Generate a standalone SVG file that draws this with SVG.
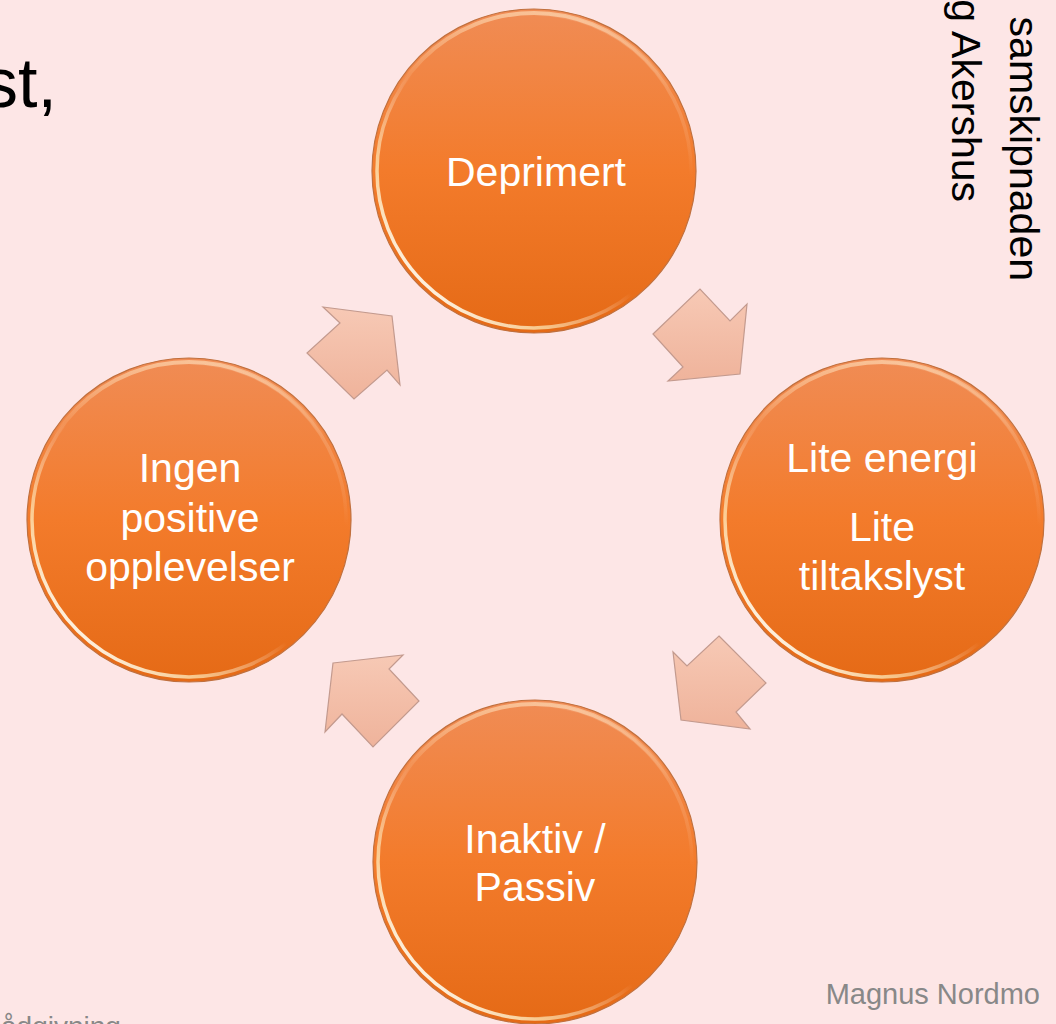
<svg xmlns="http://www.w3.org/2000/svg" width="1056" height="1024" viewBox="0 0 1056 1024">
  <defs>
    <linearGradient id="ballFill" x1="0" y1="0" x2="0" y2="1">
      <stop offset="0" stop-color="#f08c55"/>
      <stop offset="0.5" stop-color="#f37b2b"/>
      <stop offset="1" stop-color="#e56a16"/>
    </linearGradient>
    <linearGradient id="rimLight" x1="0.1" y1="0.9" x2="0.9" y2="0.1">
      <stop offset="0" stop-color="#ffffff" stop-opacity="1"/>
      <stop offset="0.2" stop-color="#fff0c0" stop-opacity="0.7"/>
      <stop offset="0.45" stop-color="#ffffff" stop-opacity="0"/>
      <stop offset="0.8" stop-color="#ffffff" stop-opacity="0"/>
      <stop offset="1" stop-color="#ffd8b0" stop-opacity="0.3"/>
    </linearGradient>
    <linearGradient id="topGlow" x1="0" y1="0" x2="0" y2="1">
      <stop offset="0" stop-color="#ffe4c0" stop-opacity="0.6"/>
      <stop offset="0.25" stop-color="#ffe4c0" stop-opacity="0"/>
    </linearGradient>
    <linearGradient id="arrowFill" x1="0" y1="0" x2="0" y2="1">
      <stop offset="0" stop-color="#f7c9b5"/>
      <stop offset="1" stop-color="#efb39b"/>
    </linearGradient>
    <style>
      .ball { fill: url(#ballFill); stroke: #c0703e; stroke-width: 1.2; }
      .rim { fill: none; stroke: url(#rimLight); stroke-width: 3.5; }
      .glow { fill: none; stroke: url(#topGlow); stroke-width: 4; }
      .label { font-family: "Liberation Sans", Arial, sans-serif; font-size: 41px; fill: #ffffff; text-anchor: middle; }
      .arrow { fill: url(#arrowFill); stroke: #c39a8e; stroke-width: 1.2; stroke-linejoin: miter; }
      .note { font-family: "Liberation Sans", Arial, sans-serif; fill: #888888; }
      .heading { font-family: "Liberation Sans", Arial, sans-serif; fill: #000000; }
    </style>
  </defs>

  <!-- slide background -->
  <rect width="1056" height="1024" fill="#fde6e6"/>

  <!-- title fragment, side caption and footers -->
  <text class="heading" x="57" y="107" font-size="70" text-anchor="end">st,</text>
  <g class="heading" font-size="41">
    <text transform="translate(1010,281) rotate(90)" text-anchor="end">samskipnaden</text>
    <text transform="translate(952,202) rotate(90)" text-anchor="end">g Akershus</text>
  </g>
  <text class="note" x="1" y="1036" font-size="28">ådgivning</text>
  <text class="note" x="1040" y="1004" font-size="29" text-anchor="end">Magnus Nordmo</text>

  <!-- cycle arrows -->
  <g id="connectors">
    <polygon class="arrow" points="653,334 700,289 730,321 747,304 740,374 668,381 683,367"/>
    <polygon class="arrow" points="719,636 766,683 736,712 750,729 681,720 673,652 687,666"/>
    <polygon class="arrow" points="333,663 403,655 389,669 419,701 373,747 342,714 325,732"/>
    <polygon class="arrow" points="323,307 392,316 400,385 387,370 354,399 307,353 340,323"/>
  </g>

  <!-- cycle stages -->
  <g id="node-deprimert">
    <circle class="ball" cx="534" cy="171" r="162"/>
    <circle class="glow" cx="534" cy="171" r="158"/>
    <circle class="rim" cx="534" cy="171" r="157"/>
    <text class="label" x="536" y="186">Deprimert</text>
  </g>
  <g id="node-lite-energi">
    <circle class="ball" cx="882" cy="520" r="162"/>
    <circle class="glow" cx="882" cy="520" r="158"/>
    <circle class="rim" cx="882" cy="520" r="157"/>
    <text class="label" x="882" y="472">Lite energi</text>
    <text class="label" x="882" y="541">Lite</text>
    <text class="label" x="882" y="590">tiltakslyst</text>
  </g>
  <g id="node-inaktiv">
    <circle class="ball" cx="535" cy="862" r="162"/>
    <circle class="glow" cx="535" cy="862" r="158"/>
    <circle class="rim" cx="535" cy="862" r="157"/>
    <text class="label" x="535" y="853">Inaktiv /</text>
    <text class="label" x="535" y="901">Passiv</text>
  </g>
  <g id="node-ingen-positive">
    <circle class="ball" cx="189" cy="520" r="162"/>
    <circle class="glow" cx="189" cy="520" r="158"/>
    <circle class="rim" cx="189" cy="520" r="157"/>
    <text class="label" x="190" y="482">Ingen</text>
    <text class="label" x="190" y="532">positive</text>
    <text class="label" x="190" y="581">opplevelser</text>
  </g>
</svg>
